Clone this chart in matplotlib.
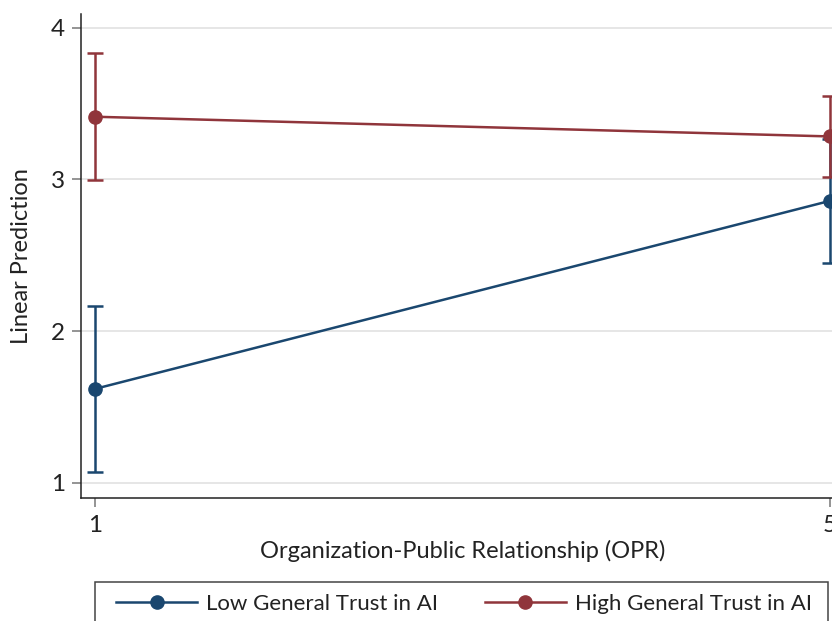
import matplotlib
matplotlib.use("Agg")
import matplotlib.pyplot as plt
from matplotlib.patches import Rectangle

plt.rcParams['font.family'] = ['Lato', 'DejaVu Sans']

x_vals = [1, 5]
low_mean = [1.618, 2.859]
low_lo = [1.070, 2.450]
low_hi = [2.166, 3.268]
high_mean = [3.414, 3.284]
high_lo = [2.998, 3.018]
high_hi = [3.832, 3.550]
labels = ["Low General Trust in AI", "High General Trust in AI"]
yticks = [1, 2, 3, 4]
xticks = [1, 5]

BLUE = "#1a476f"
RED = "#90353b"
TXT = "#222222"

W, H = 832, 621
fig = plt.figure(figsize=(W / 100, H / 100), dpi=100)
ax_l, ax_r, ax_t, ax_b = 81, 844, 14, 498
ax = fig.add_axes([ax_l / W, 1 - ax_b / H, (ax_r - ax_l) / W, (ax_b - ax_t) / H])

handles = []
for m, lo, hi, c, lab in [(low_mean, low_lo, low_hi, BLUE, labels[0]),
                          (high_mean, high_lo, high_hi, RED, labels[1])]:
    yerr = [[mm - l for mm, l in zip(m, lo)], [h - mm for mm, h in zip(m, hi)]]
    ax.errorbar(x_vals, m, yerr=yerr, fmt='none', ecolor=c, elinewidth=1.8,
                capsize=5.5, capthick=1.8, zorder=3)
    h, = ax.plot(x_vals, m, color=c, lw=1.8, marker='o', markersize=9.5,
                 label=lab, zorder=4)
    handles.append(h)

ax.set_xlim(0.924, 5.076)
ax.set_ylim(0.898, 4.092)
ax.set_xticks(xticks)
ax.set_yticks(yticks)
ax.set_xticklabels([str(v) for v in xticks])
ax.set_yticklabels([str(v) for v in yticks])
ax.grid(axis='y', color='#e2e2e2', lw=1.2, zorder=0)
ax.set_axisbelow(True)
for s in ['top', 'right']:
    ax.spines[s].set_visible(False)
for s in ['left', 'bottom']:
    ax.spines[s].set_color('#222222')
    ax.spines[s].set_linewidth(1.1)
ax.tick_params(axis='both', length=6.5, width=1.1, color='#777777',
               labelsize=17.5, labelcolor=TXT)
ax.tick_params(axis='y', pad=5)
ax.tick_params(axis='x', pad=6)

ax.set_ylabel("Linear Prediction", fontsize=17, color=TXT)
ax.yaxis.set_label_coords((22 - ax_l) / (ax_r - ax_l), 0.5)
ax.yaxis.label.set_va('center')
ax.set_xlabel("Organization-Public Relationship (OPR)", fontsize=17, color=TXT)
ax.xaxis.set_label_coords(0.5, (ax_b - 551) / (ax_b - ax_t))
ax.xaxis.label.set_va('center')

# legend frame
fig.patches.append(Rectangle((95 / W, 1 - 660 / H), (828 - 95) / W, (660 - 582) / H,
                             transform=fig.transFigure, fill=False,
                             edgecolor='#444444', lw=1.1))
leg = fig.legend(handles, labels, loc='center left', ncol=2,
                 bbox_to_anchor=(116 / W, 1 - 604 / H), frameon=False,
                 fontsize=16, handlelength=3.65, handletextpad=0.4,
                 columnspacing=2.1, borderpad=0, borderaxespad=0,
                 labelcolor=TXT)

fig.savefig("out.png", dpi=100)
